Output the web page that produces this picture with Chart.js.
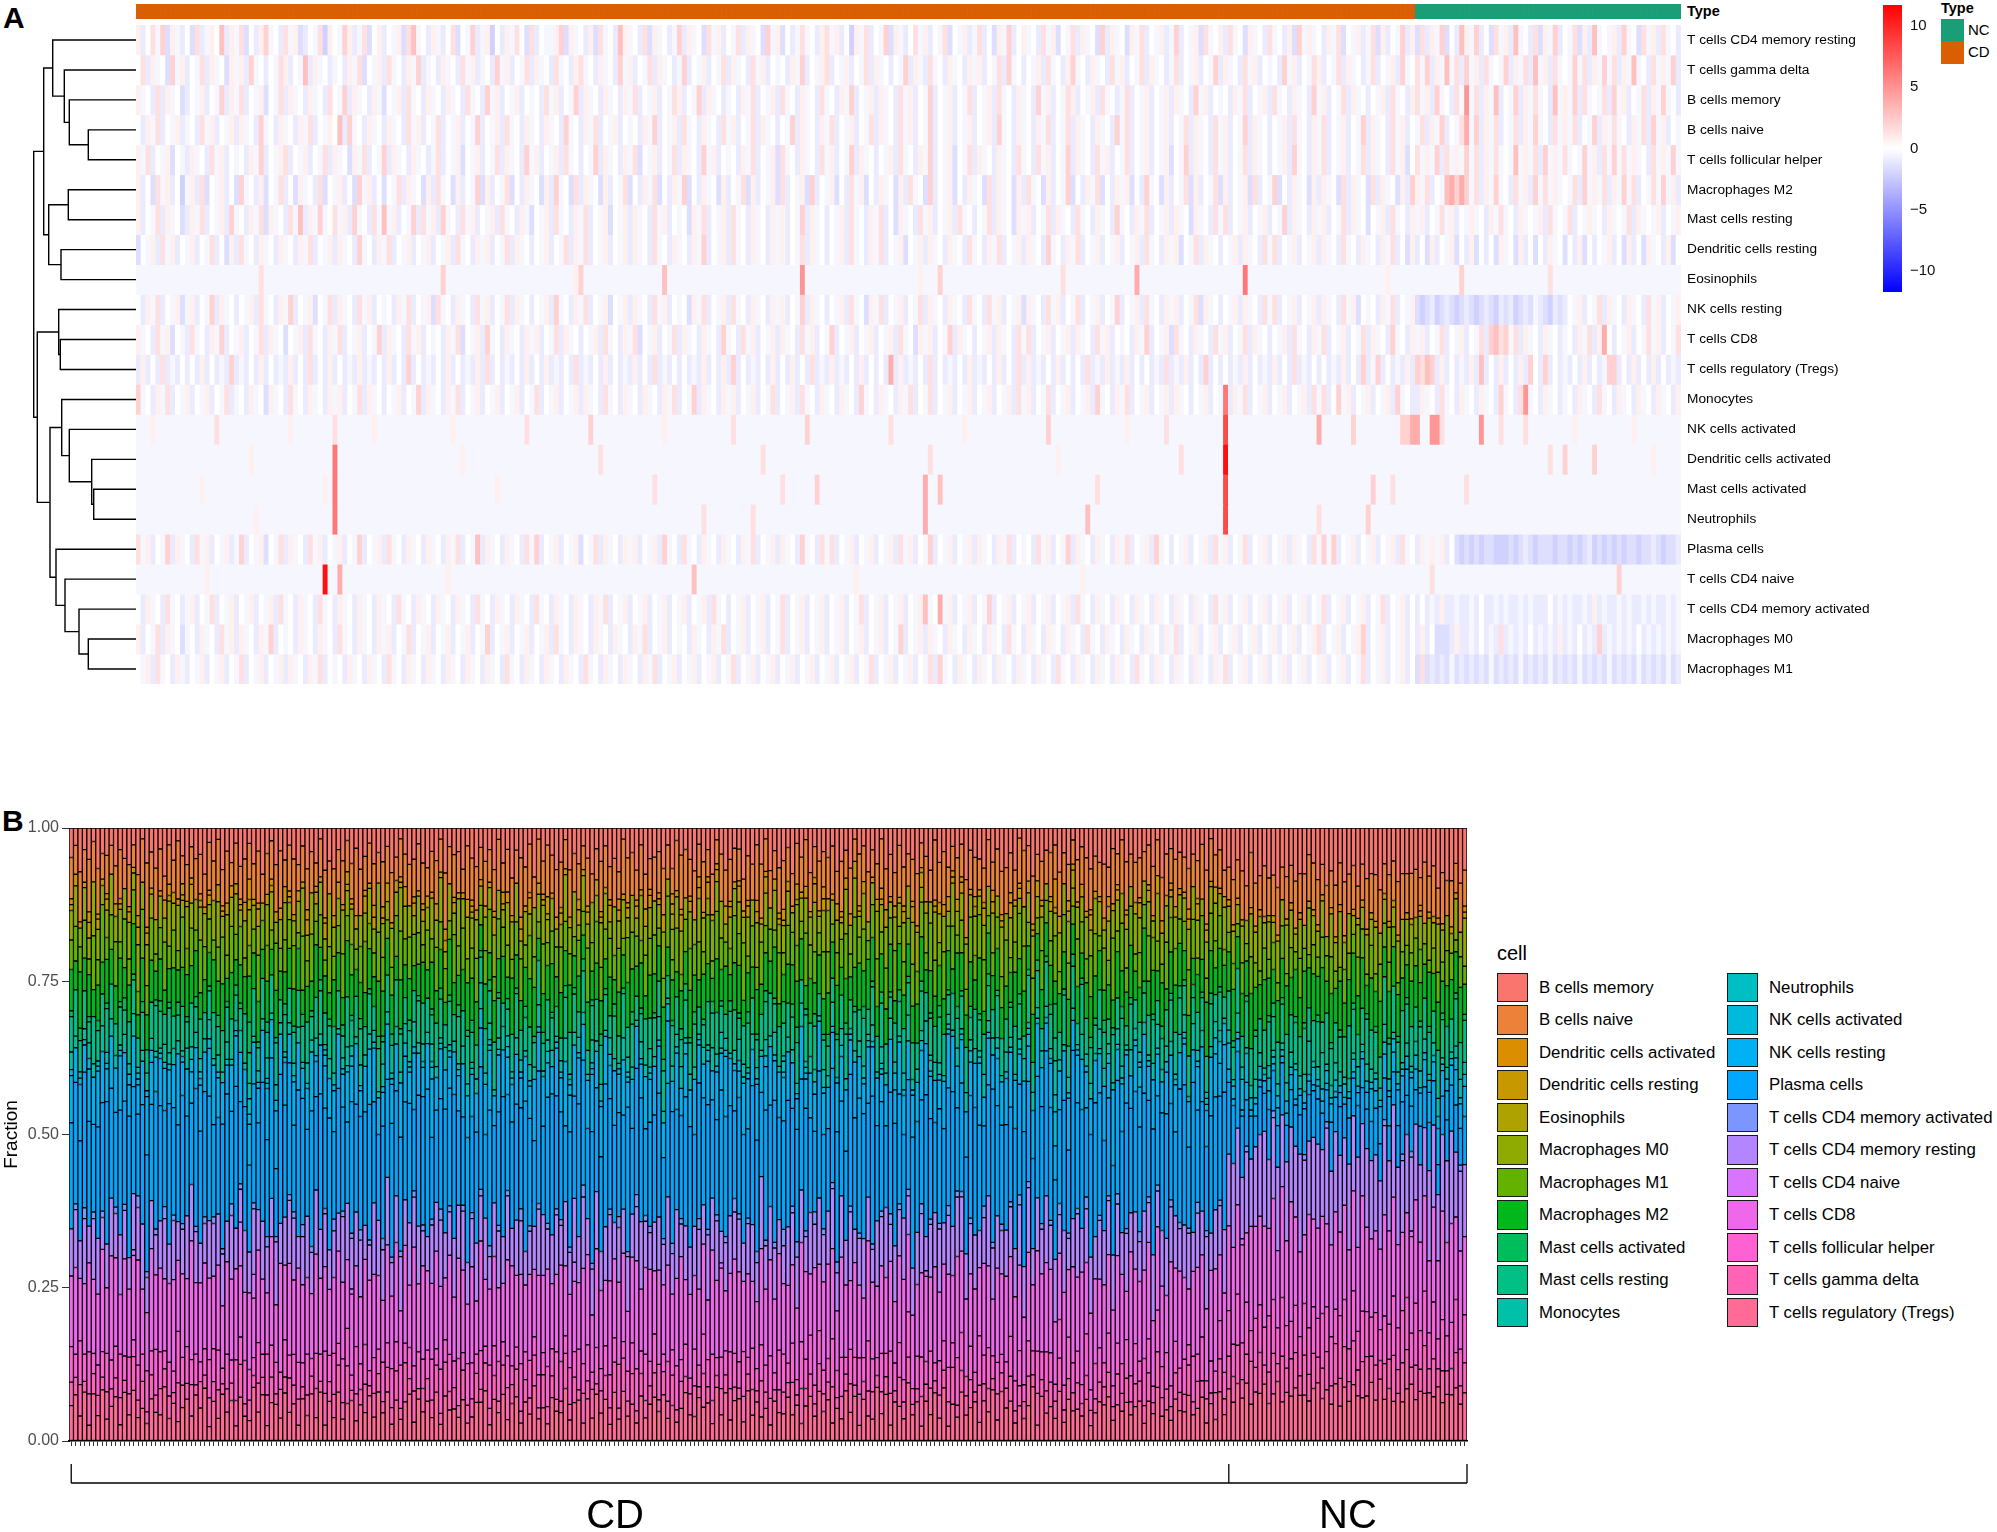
<!DOCTYPE html>
<html>
<head>
<meta charset="utf-8">
<script src="https://cdn.jsdelivr.net/npm/chart.js@4.4.1/dist/chart.umd.min.js"></script>
<style>
  body { margin: 0; background: #fff; width: 1997px; height: 1532px; position: relative; overflow: hidden;
         font-family: "Liberation Sans", Arial, sans-serif; color: #000; }
  canvas, .abs { position: absolute; }
  .panel { font-weight: bold; font-size: 30px; line-height: 30px; }
  .typeTxt { font-weight: bold; font-size: 14.5px; line-height: 17px; }
  .key { position: absolute; box-sizing: border-box; }
  .lg { position: absolute; font-size: 16.8px; line-height: 20px; white-space: nowrap; }
</style>
</head>
<body>
<div class="abs panel" style="left:3px;top:3px">A</div>
<div class="abs panel" style="left:2px;top:806px">B</div>
<div class="abs typeTxt" style="left:1687px;top:3px">Type</div>
<div class="abs typeTxt" style="left:1941px;top:0px">Type</div>
<div id="typeLegend"></div>
<div id="cellLegend"></div>

<canvas id="dendro" width="120" height="659" style="left:20px;top:25px"></canvas>
<canvas id="annot" width="1545" height="15" style="left:136px;top:4px"></canvas>
<canvas id="heat" width="1861" height="699" style="left:136px;top:5px"></canvas>
<canvas id="cbar" width="69" height="321" style="left:1883px;top:-12px"></canvas>
<canvas id="frac" width="1475" height="721" style="left:0px;top:810px"></canvas>

<script>
// ---- samples ----
const sampleGroups = ["CD", "NC"];
const groupSizes = [260, 54];
const groupColors = ["#D95F02", "#1B9E77"];

// ---- panel A: heatmap rows (dendrogram order) ----
const heatRows = [
  "T cells CD4 memory resting", "T cells gamma delta", "B cells memory", "B cells naive",
  "T cells follicular helper", "Macrophages M2", "Mast cells resting", "Dendritic cells resting",
  "Eosinophils", "NK cells resting", "T cells CD8", "T cells regulatory (Tregs)", "Monocytes",
  "NK cells activated", "Dendritic cells activated", "Mast cells activated", "Neutrophils",
  "Plasma cells", "T cells CD4 naive", "T cells CD4 memory activated", "Macrophages M0", "Macrophages M1"
];
// one character per sample (row z-score level), CD block | NC block
const zLevels = { f: -3.6, e: -2.8, d: -2.1, c: -1.5, b: -0.9, a: -0.4, "0": 0, "1": 0.7, "2": 1.4,
                  "3": 2.1, "4": 2.9, "5": 3.8, "6": 4.8, "7": 6.2, "8": 8.3, "9": 11 };
const zCodes = [
  "1b02a3c1ab 0c2ba104b1 a2c0b13a0b 2a1cb0a2d1 0a31ba2c01 b0a1c24a0b 1ab02c0a3b a1d0b1a20c 2b0aa13c1a 0b1c2a0b41 a0b2c1a0ba 3b1a0c2a1b 0a2b1a0c3a 1c0ba2a0b1 2a1b0d1a2b 0a3c1ab02a 1b0a2c0a1b a2b0c1a3b0 1a0b2a1c0a 2b1a0c3b1a 0c1a2b0a1b a3b0a1c2a0 1b2a0c1a0b 2a0b1c3a1a 0b1a2c0a1b a2c1b0a3b1 | c2b1a3c0b4 1a3b0c2a1b 4a0b2c1a3b 0a2c1b4a0a 1b3a0c2a1b 2a0b",
  "02b1a0c3a1 b0a2b1a0c1 a1b3a0b0a2 1b0a4b1a0b a0b1a2c0a1 b2a0b1a3ba 0b1a0b2a1b a0b3a1b0a2 b1a0b2a0b1 2a0b1a0b3a 1b0a2b1a0b a3b0a1b0a2 b1a0b2a1b0 a0b1a3b0a1 2b0a1b0a2b 1a0b0a3b1a b2a0b1a0b1 a1b0a2b3a0 b0a1b2a0b1 3a0b1a0b2a 1b0a2b1a0b a2b0a1b0a3 b1a0b2a1b0 a0b3a1b0a2 1b0a2b1a0b a2b0a1b3a0 | 2a3b1a4a2b 3a1b2a0a3b 1a2b4a1b2a 0a3a2b1a3a 2b1a4a0b2a 1a3b",
  "1a0b2b1a0c b0a1b0a3b1 a2b0a1c0a2 b1a0b1a0b2 0a3b1a0b1a c0a1b2a0b1 a0b1a0b2a0 b3a1b0a1b0 a0b2a1b0a3 b1a0b1a0b1 a2b0a1b0a2 1b0a3b1a0b a0b1a2b0a1 b2a0b1a0b2 a0b1a3b0a1 b1a0b2a1b0 a3b0a1b0a2 b0a1b2a0b1 a0b3a1b0a2 1b0a1b2a0b a2b0a1b0a1 b1a0b3a1b0 a0b1a2b0a1 b2a0b1a0b3 a1b0a2b1a0 b0a1b2a0b1 | 2a1b3a0b2a 6a2b1a4b0a 3b1a2a0b4a 1a3b2a0a2b 3a1b0a2b1a 3a0b",
  "0b1a2b0a1b a0b2a1b0a1 b1a0b3a0b1 a0b1a2b0a1 04b3a0b1a0 b1a0b2a1b0 a2b0a1b0a3 b0a1b2a0b1 a0b1a0b3a0 b1a2b0a1b0 a0b1a3b0a1 b2a0b1a0b2 a1b0a2b1a0 b0a3b1a0b1 a2b0a1b0a2 b1a0b2a1b0 a3b0a1b0a1 b0a1b3a0b1 a0b1a2b0a2 b1a0b1a0b3 a2b0a1b0a1 b0a2b1a0b2 a1b0a3b1a0 b0a1b2a0b1 a2b0a1b0a3 b1a0b2a1b0 | a2b1a3b0a2 5a3b1a2b0a 2b1a3a0b2a 1a2b0a3b1a 2a0b1a2b3a 1b0a",
  "1a2b0a1c0a b1a0b2a1b0 a0b1a3b0a1 2b0a1b0a2b 1a0c1a2b0a 3b1a0b1a0b a2b0a1c0a1 b0a2b1a0b3 a1b0a1b2a0 b0a3b1a0b1 a2c0a1b0a2 b1a0b3a1b0 a0b1a2b0a1 c2a0b1a0b2 a1b0a3b1a0 b0a1b2a0b1 a3b0a1c0a2 b1a0b1a0b2 a0b2a1b0a3 b1a0b2a1b0 a2b0a1b0a1 c0a3b1a0b2 a1b0a2b1a0 b0a1b3a0b1 a2b0a1b0a2 b1a0b2a1c0 | 2a1a3b2a1a 3a2b1a2a0a 4a1a2b3a1a 2a0a3a1b2a 3a2a1a0b2a 1a3a",
  "1b0c2a1b0d a1b2c0a1b0 c3a0b1c0a2 b0c1a0b2c0 a1b0c3a1b0 c0a2b1a0c1 b2a0c1b0a3 c1b0a2c0b1 a0c1b3a0c2 b1a0c1b0a2 c0b1a2c0b1 a3c0b1a0c1 b0a2c1b0a1 c2b0a1c3b0 a1c0b2a1c0 b1a0c1b2a0 c3b0a1c0b1 a0c2b1a0c1 b2a0c1b0a3 c0b1a2c0b1 a1c0b3a0c1 b0a2c1b0a2 c1b0a1c2b0 a3c0b1a0c1 b1a0c2b1a0 c2b1a0c1b3 | 1a2b0a4535 3a2b1a3a0b 2a1b3a2a1a 0a2b3a1a2b 1a3a2b0a2a 3a1b",
  "1b0a2b1a0c b1a2b0a1b3 a0b1a2c1a0 b2a4b1a3a0 2a1b3a0b2a 4a1b0a3b2a 1b3a0b2a1b 0a1b2a0b1a c0a1b2a0b1 a2b0a1c0a1 b1a0b2a1b0 a0c1a2b0a1 b2a0b1a0b1 a1b0a3b1a0 b0a1b2a0b1 a2b0c1a0b2 a1b0a1b2a0 b0a2b1a0c1 a1b0a2b1a0 b2a0b1a0b3 a0b1a2b0a1 b1a0c1a0b2 a2b0a1b0a1 b0a3b1a0b1 a1b0a2b1a0 c0a1b2a0b1 | a1b0a2a1b0 a1a0b1a2a0 b1a0a1b2a0 a2b0a1a0b1 a0a2b1a0a1 b0a1",
  "c0a1b2a1b0 a1b0a2b0c1 b2a0b1a0b1 a0b1a2b0a1 b1a0b3a0b1 a2b0a1b0a1 b0a1b2a0b1 a1b0a2b1a0 b0a1b0a2b1 a2b0a1b0a1 b1a0b2a0b1 a0b1a3b0a1 b2a0b1a0b1 a1b0a2b1a0 b0a1b2a0b1 a2b0a1c0a1 b1a0b1a0b2 a0b1a2b0a1 b1a0b3a0b1 a2b0a1b0a1 b0a1b2a0b1 a1c0a2b1a0 b0a1b1a0b2 a2b0a1b0a1 b1a0b2a0b1 a0b1a2b0c1 | b0c1b0a1c0 b1c0b0c1a0 c1b0c0b1a0 c0b1c0b0a1 b0c1b0c1a0 b1c0",
  "aaaaaaaaaa aaaaaaaaaa aaaaa2aaaa aaaaaaaaaa aaaaaaaaaa aaaaaaaaaa aa3aaaaaaa aaaaaaaaaa aaaaaaaaa1 3aaaaaaaaa aaaaaaa4aa aaaaaaaaaa aaaaaaaaaa aaaaa6aaaa aaaaaaaaaa aaaaaaaaa1 aaa3aaaaaa aaaaaaaaaa aaaaaaaa2a aaaaaaaaaa aaa5aaaaaa aaaaaaaaaa aaaaa7aaaa aaaaaaaaaa aaaaaaaaaa aaaa1aaaaa | aaaaaaaaa3 aaaaaaaaaa aaaaaaa2aa aaaaaaaaaa aaaaaaaaaa aaaa",
  "0b1a2b0a1c a1b0a3b1a0 b0a1b2a0b1 a3b0a1c0a2 b1a0b2a1b0 a0b1a2b0a1 c2a0b1a0b2 a1b0a2b1a0 b0a1b3a0b1 a2b0a1c0a1 b1a0b2a1b0 a0c1a2b0a1 b2a0b1a0b1 a1b0a3b1a0 b0a1b2a0c1 a2b0a1b0a2 b1a0b1a0b2 a0b2a1b0a1 c1a0b2a1b0 a2b0a1b0a3 b0a1b2a0b1 a1b0a2c1a0 b0a1b1a0b2 a2b0a1b0a1 b1a0b2a1c0 a0b1a2b0a1 | cdcbdcbcdc bcdcbcdbcb dcbcabcdbc b0a1b0a2b1 a0b1a0b2a1 b0a1",
  "1a0b2a1c0a b2a0b1a3b0 a1b0a2b1a0 c0a1b2a0b1 a2b0a1b0a3 b1a0b2a1b0 a0b1a2c0a1 b3a0b1a0b1 a1b0a2b1a0 b0a1b2a0b1 a2c0a1b0a2 b1a0b1a0b3 a0b2a1b0a1 b1a0b2a1b0 a3b0a1b0a1 b0a1b2a0c1 a1b0a3b1a0 b0a1b1a0b2 a2b0a1b0a1 b1a0b2a1b0 a0b1a3b0a1 c2a0b1a0b2 a1b0a2b1a0 b0a1b2a0b1 a2b0a1b0a2 b1a0b3a0b1 | a1b0a2b0a1 b0a2b3423a 2b1a0b1a0b a0b1a2b150 b0a1b0a2a1 b0a2",
  "b1b0b2bab0 b0b1b0bab3 bab0b1b0ba b1b0b2b0b1 b0bab1bab0 b1b0b3b0ba b0b1b0bab1 b2b0bab0b1 b0b1bab0b2 bab0b1b0ba b1b0b2bab0 b0bab1b0b1 b3b0bab0b1 b0b1b0b2ba b1bab0b1b0 b0b5b1bab0 b2b0bab0b1 bab0b1b0b2 b1bab0b1b0 b0b2bab1ba b1b0b0bab2 bab1b0b3b0 b0bab1b0ba b1b0b2bab0 b0bab1b0b3 ba3b0bab1b | 3243b1b0ba b1b4b0b1b0 b1b30b3b0b ab0b1b0ba3 3b0b1b0b1b 0bab",
  "3a0b1a2b0a 1b0a1b0a2b a0b1a0c1a0 b2a0b1a0b1 a1b0a2b1a0 b0a1b0a3b1 a0b1a2b0a1 b0a1b0a1b0 a2b0a1b0a1 b1a0b2a0b1 a0b1a0b1a2 b0a3b1a0b1 a1b0a1b0a2 b0a1b2a0b1 a0b1a0b3a0 b1a0b1a2b0 a2b0a1b0a1 b0a1b0a1b2 a1b0a2b0a1 b0a1b3a0b1 a2b0a1b0a1 b1a0b0a1b0 a7b1a2b0a1 b0a1b0a1b2 a2b03a1b0a 1b0a1b3a0b | b1a0b2a0b1 a0b1a0b3a0 b26a0b1a0b a0b1a0b2a0 b1a0b1a0b1 a0b1",
  "aaa1aaaaaa aaaaaa2aaa aaaaaaaaaa a1aaaaaaaa 2aaaaaaa1a aaaaaaaaaa aaaa1aaaaa aaaaaaaaa2 aaaaaaaaaa aa3aaaaaaa aaaaaaa1aa aaaaaaaaaa a2aaaaaaaa aaaaaa3aaa aaaaaaaaaa aaa2aaaaaa aaaaaaaa1a aaaaaaaaaa aaaaa3aaaa aaaaaaaaaa a1aaaaaaa2 aaaaaaaaaa a8aaaaaaaa aaaaaaaaaa 5aaaaaa3aa aaaaaaa335 | 5aa662aaaa aaa6aaa2aa aa2aaaaaaa aa1aaaaaaa aaaa1aaaaa aaaa",
  "aaaaaaaaaa aaaaaaaaaa aaa1aaaaaa aaaaaaaaaa 7aaaaaaaaa aaaaaaaaaa aaaaaa1aaa aaaaaaaaaa aaaaaaaaaa aaaa2aaaaa aaaaaaaaaa aaaaaaaaaa aaaaaaa2aa aaaaaaaaaa aaaaaaaaaa aaaaaaaaaa a2aaaaaaaa aaaaaaaaaa aaaaaaa1aa aaaaaaaaaa aaaaaaaaaa aa2aaaaaaa a9aaaaaaaa aaaaaaaaaa aaaaaaaaaa aaaaaaaaaa | aaaaaaaaaa aaaaaaaaaa aaaaaaa2aa 3aaaaa3aaa aaaaaaaa1a aaaa",
  "aaaaaaaaaa aaa1aaaaaa aaaaaaaaaa aaaaaaaa1a 7aaaaaaaaa aaaaaaaaaa aaaaaaaaaa aaa1aaaaaa aaaaaaaaaa aaaaaaaaaa aaaaa2aaaa aaaaaaaaaa aaaaaaaaaa a2aaaaaa3a aaaaaaaaaa aaaaaaaaaa 5aa4aaaaaa aaaaaaaaaa aaaaaaaaaa aaaaa2aaaa aaaaaaaaaa aaaaaaaaaa a8aaaaaaaa aaaaaaaaaa aaaaaaaaaa a3aaa2aaaa | aaaaaaaaaa 2aaaaaaaaa aaaaaaaaaa aaaaaaaaaa aaaaaaaaaa aaaa",
  "aaaaaaaaaa aaaaaaaaaa aaaa1aaaaa aaaaaaaaaa 7aaaaaaaaa aaaaaaaaaa aaaaaaaaaa aaaaaaaaaa aaaaaaaaaa aaaaaaaaaa aaaaaaaaaa aaaaa2aaaa aaaaa2aaaa aaaaaaaaaa aaaaaaaaaa aaaaaaaaaa 5aaaaaaaaa aaaaaaaaaa aaaaaaaaaa aaa4aaaaaa aaaaaaaaaa aaaaaaaaaa a8aaaaaaaa aaaaaaaaaa 2aaaaaaaaa 3aaaaaaaaa | aaaaaaaaaa aaaaaaaaaa aaaaaaaaaa aaaaaaaaaa aaaaaaaaaa aaaa",
  "2a1b0a3b1a 0b2a1b0a1b a3b0a1c0a2 b1a0b2a1b0 a1b0a3b0a1 b2a0b1a0b1 a0b1a2b0a4 b1a0b1a0b2 a3b0a1b0a1 c0a2b1a0b1 a1b0a1b3a0 b2a0b1a0b1 a0b1a2b0a1 b1a0b3a0b2 a2b0a1b0a1 b0a1b2a1b0 a3b0a1b0a1 b1a0b1a2b0 a0b2a1b0a3 b1a0b1a0b1 a2b0a1b3a0 b0a1b0a1b2 a1b0a2b0a1 b0a1b1a0b2 a3a3b0a1b0 a1b0a1b2a0 | b1a1a1b0cd cdcdccdddc dcbcdcccdc cdcdcbdcdc dcdccdccbc dccb",
  "aaaaaaaaaa aaaa1aaaaa aaaaaaaaaa aaaaaaaa9a a5aaaaaaaa aaaaaaaaaa aaa1aaaaaa aaaaaaaaaa aaaaaaaaaa aaaaaaaaaa aaaaaaaaaa aaa4aaaaaa aaaaaaaaaa aaaaaaaaaa aaaaaa1aaa aaaaaaaaaa aaaaaaaaaa aaaaaaaaaa aaaaaaaaaa aa1aaaaaaa aaaaaaaaaa aaaaaaaaaa aaaaaaaaaa aaaaaaaaaa aaaaaaaaaa aaaaaaaaaa | aaa2aaaaaa aaaaaaaaaa aaaaaaaaaa aaaaaaaaaa a3aaaaaaaa aaaa",
  "0b1a0b2a0b a1b0a2b0a1 b0a1b0a1b2 a0b1a0b2a0 b1a0b1a0b1 a0b2a0b1a0 b1a0b1a0b2 a0b1a0b1a0 b2a0b1a0b1 a0b1a2b0a1 b0a1b0a1b0 a1b0a1b2a0 b0a1b0a1b0 a2b0a1b0a1 b0a1b0a2b0 a1b0a1b0a1 4a05a1b0a1 b0a3b0a1b0 a1b0a1b0a1 b2a0b1a0b1 a0b1a0b1a0 b1a0b1a0b2 a1b0a1b0a1 b0a1b0a1b0 a2b0a1b0a1 b0a2b0a1b0 | b0bab1bbab bab0bbabab bababbb0ba babbab1bab bababbabab baba",
  "1b0a2b1a0c a0b1a0b2a1 b1a0b1a3b0 a0b1a0b1a0 b2a0b1a0b1 a1b0a2b0a1 b0a1b0a1b0 a3b0a1b0a1 b0a1b2a0b1 a0b1a0b1a0 b1a2b0a1b0 a0b1a0b1a2 b0a1b0a1b0 a2b0a1b0a1 b0a1b0a1b0 a1b0a3b0a1 b1a0b1a0b1 a0b1a0b2a0 b1a0b1a0b1 a0b2a0b1a0 b1a0b1a0b1 a2b0a1b0a1 b0a1b0a1b0 a1b0a1b0a1 2b0a1b0a13 b0a1b0a1b0 | b1b0cccb1b bab0bab2ba bab0babab1 bab0bab3ba babab0baba baba",
  "0a1b2a0b1a b0a1b0a1b0 a2b0a1b0a1 b1a0b1a2b0 a0b1a0b1a0 b2a0b1a0b1 a0b1a0b1a0 b1a0b2a0b1 a0b1a0b1a0 b2a0b1a0b1 a0b1a2b0a1 b0a1b0a1b0 a2b0a1b0a1 b0a1b0a1b0 a1b0a1b0a2 b0a1b0a1b0 a2b3a0b1a0 b1a0b1a0b1 a0b1a0b2a0 b1a0b1a0b1 a0b2a0b1a0 b1a0b1a0b1 a2b0a1b0a1 b0a1b0a1b0 a1b0a1b0a2 b0a1b0a1b0 | c2cbcbcacb cbcbcacbcb cacbcbcacb cbcacbcbca cbcbcacbcb cacb"
];
const zLimit = 11.7;
const colorTicks = [-10, -5, 0, 5, 10];

// hierarchical clustering of rows: [a, b, height]; negative = row (1-based), positive = earlier merge
const dendroMerges = [
  [-4, -5, 47.7], [-3, 1, 66.7], [-2, 2, 71.7], [-1, 3, 83.3],
  [-6, -7, 67.7], [-8, -9, 75.0], [5, 6, 87.3], [4, 7, 92.3],
  [-11, -12, 75.7], [-10, 9, 77.3],
  [-16, -17, 42.3], [-15, 11, 44.3], [-14, 12, 66.7], [-13, 13, 74.3],
  [-21, -22, 47.7], [-20, 15, 57.0], [-19, 16, 71.0], [-18, 17, 80.0],
  [14, 18, 86.0], [10, 19, 98.7], [8, 20, 102.3]
];

// ---- panel B: fractions, percent as base-36 digit per sample ----
const cellTypes = [
  "B cells memory", "B cells naive", "Dendritic cells activated", "Dendritic cells resting",
  "Eosinophils", "Macrophages M0", "Macrophages M1", "Macrophages M2", "Mast cells activated",
  "Mast cells resting", "Monocytes", "Neutrophils", "NK cells activated", "NK cells resting",
  "Plasma cells", "T cells CD4 memory activated", "T cells CD4 memory resting", "T cells CD4 naive",
  "T cells CD8", "T cells follicular helper", "T cells gamma delta", "T cells regulatory (Tregs)"
];
const fracCodes = [
  "5374628453 6457382647 4836257364 7352846375 3648527463 5738462857 4627385364 6385247536 7462835473 5836472648 4573826357 6284735846 3758264738 5647382546 7364825763 4857362847 6473528364 5386472537 4627583746 7358264835 3846572647 6572438564 5384726358 4768352746 6437285364 5846372548 | 6857a49768 7a68597846 8697a58769 5978a68597 7869586a79 8697",
  "7586a69475 6958478b69 8476957586 5a68794867 7695869a58 9568747958 6857a96875 8694758697 5786a68749 7958679586 6a79586978 8596748569 7685a97586 5978658a97 8695749685 6587a96758 9758687596 7869584a68 5697869758 8586a79647 6978568597 7859a68576 9685748698 5796869a57 8579678596 6857a98675 | 5768697586 6857586978 7586968675 5968758697 6875968586 7586",
  "1010201010 0101020100 1020100101 0100102010 4010010201 1002010100 0101001020 2010100101 0100201010 1010010201 0201001010 1000201001 0102010100 1010020101 0201010010 1010201001 2010100102 0101020100 1020100101 0100102010 1010010201 0201001010 1500201001 0102010100 1010020101 0201010010 | 1010010100 0100101001 1001010010 0101001010 1001010100 0101",
  "1201302120 2102130210 0312021301 1203120213 2130212031 0213021302 3021203120 1302130212 2031202103 1202130120 0213021302 2120312031 1302120213 2013021302 0213120321 3120213021 1203021312 2031203120 0213021203 1320120312 2102130201 0312021320 2130210213 1023120302 3021302120 1203021302 | 0101001010 1001010010 0100101001 1010010100 0101001010 1001",
  "0000000000 0000000000 0000010000 0000000000 0000000000 0000000000 0010000000 0000000000 0000000000 1000000000 0000000100 0000000000 0000000000 0000030000 0000000000 0000000000 0001000000 0000000000 0000000000 0000000000 0002000000 0000000000 0000030000 0000000000 0000000000 0000000000 | 0000000001 0000000000 0000000000 0000000000 0000000000 0000",
  "5736486357 4657385746 6485738465 5368475836 7453864573 4685736485 5847365748 6374856374 4758364857 5836475386 7364857463 4857364758 6385746385 5748365847 4863757364 6475836475 5738465837 7463857463 4857364758 6374856374 5748365748 4863757463 6475836475 5738465837 7463857364 4857365748 | 4536475846 3748536475 4637584635 3748546375 4536374856 3748",
  "5647385946 7385649573 6847395648 5736948573 6485739465 7395846374 5846379548 6357948563 7485639574 5936847563 6748539465 8563749586 5748396547 6835947368 5749386457 6938475639 4857396548 7365849573 6847593648 5739648573 6485793465 7359846374 5846739548 6375948563 7486539574 5963847563 | 3425364253 4352436425 3546325436 4253645324 3546324536 4253",
  "7596847586 6857948675 8469578694 5786948576 9675849567 6847596748 7598476859 8674958467 5867496578 7948576849 6579847695 8695748576 5748697584 7869584769 6587496857 9476857694 5869748576 7695847968 8576948657 6948576849 7586947685 5697848576 8476957468 6857496785 7968574697 5847698576 | 6857697586 5768586968 6958675786 7586958675 5867596857 6795",
  "1020102010 0120102001 2010201020 0102010210 6010201020 1020102010 0201020102 1020102010 0102010201 2010201020 1020102010 0201020102 1020102010 0102010231 2010201020 1020102010 4023010201 2010201020 1020102010 0201020102 1020102010 0102010201 2601020102 1020102010 0201020102 1020102010 | 0100101001 2010010100 1001010010 0101001010 1001010010 0101",
  "6857476586 5748657468 7586485756 4675867548 6847568476 5768478658 7485675847 4658746587 6587475868 5748687456 8567485765 4786574687 6475867458 5867486576 7548675486 4687567857 6758486745 5476857684 7685476857 4857687465 6748576586 5687485748 7458674867 4865768475 6578457686 5847668574 | 6575867567 5768576857 7586756875 5867586758 6758675867 5867",
  "3212321423 2132412321 1323214232 2413231241 3122413212 2314232132 1232142321 4213231423 2321412132 1342312421 3213241231 2412321423 1321432132 3242132413 2131423212 4213213241 1322413213 2413212321 3132421342 2241321213 1323142321 3212413232 2621321423 1432132142 2213423213 3142312321 | 2132123212 1213212351 2612321213 1321232121 2123212312 1232",
  "0001000000 0000010000 0100000001 0000000000 3000100000 0000000100 0010000000 0000001000 0100000000 0000100001 0000000000 0010000100 0000010000 1000000000 0000001000 0100000000 2000010000 0000000001 0010000000 0002000100 0000000000 1000010000 0300000000 0000001000 1000000000 1000010000 | 0000000000 0000000000 0000000000 0000000000 0000000000 0000",
  "1010201010 0102010120 1010010201 0201010100 2010102010 1001010201 0102010010 1010020101 0201010100 1030101020 0101010201 1020100101 0201010010 1010301020 0102010101 2010102010 1001010201 0102010010 1010030101 0201010100 1020101020 0101020101 1600101010 0102010101 4010102010 1001010344 | 4215521212 1212151213 1221212121 1212121211 2121121212 1212",
  "8695a7b869 7a86958a76 9768b69587 6a97858a96 8769a6b785 7958a69867 a687958b96 6978a76985 8a69758697 7869b5a876 9586a79658 6b78968a79 8697a58769 7a86b69587 9768587a96 5897a68b78 8a76958697 7698b6a859 9857a69768 6a98758b97 8769a58697 7b86968a75 9678a59867 6897b68a58 8a69758796 7958a6b869 | 2121312123 1312213121 2213121312 4353645364 4536453645 3645",
  "ilgpkdmhqj fnhrjemkgo mgpkfnjdrh jqehomgsfk hkfojmdqln eslhngpjkf njdqgmkrhe kgoilfndpm qehkmjrgfl gnjfpdkoih lhrkeogmqj jdmgqlfnkh okgjhtelmf hmlekqgjon fpjnhgrkld mhgrkeojpi kqfmjlhdng ejohgnkqlf rgkenmjfhp hlpjfkgome kfmqhejrlg gjkmohfnlq nehlgskjfo jpfkdmhqgl lkhnfjoegm ognhkemljq | b9ca875768 6786576878 7658675768 5768676578 6857687567 7868",
  "0102010100 1010020101 0201010010 1010102010 0100201001 1020100102 0101020100 2010100101 0102010010 1010201010 0201010101 1010020100 0102010201 1001020100 0201010102 1010201010 3013010201 0120010100 1010201010 0201010201 1010020101 0102010010 1020101020 0101020100 2010100101 0102010010 | 0000100000 1000000100 0010000000 0000010001 0100000000 0010",
  "8a6c79b58a 7b86a9c687 9a7b68c9a6 6c89a7b86a 8b7a96c79b a68c7b9a68 7c9a8b67c9 9b68a7c8b6 6a9c87b9a7 8c7b69a8c6 a9687cb79a 7b8a9c68b7 9c6a8b79c8 6a97c8b6a9 8b7c9a68b7 a69b7c8a96 7c8a96b7c8 9a7b8c69a7 6b9c7a8b69 8c6a9b7c8a a79b68c9a7 7a8c9b6a8c 9b7a68c79b 6c9b8a7c6a 8a7c69b8a7 9b6a8c7b9c | bdcaebdcfb cebdacfdbe dbfcebadce aecdbfcedb cdbeafdbce ebdc",
  "0000000000 0000100000 0000000000 0000000080 0400000000 0000000000 0001000000 0000000000 0000000000 0000000000 0000000000 0003000000 0000000000 0000000000 0000001000 0000000000 0000000000 0000000000 0000000000 0010000000 0000000000 0000000000 0000000000 0000000000 0000000000 0000000000 | 0001000000 0000000000 0000000000 0000000000 0100000000 0000",
  "cfadhbegci ebgdficahd gcehbfdjec dhbfcgeidb fagdchbjeg cidfbhegad hebgcdfiec bgdhafcjdg edifbgchea gbhcefdaig dfcgbiehcd hcebdgfaje bhdfgceibf fdgchbejcg cegbidhafe hbfdcgeidh dgcehfbjcf gfbidcheag ecgdhbfice bhfegcdjbh fcdhbgeaid dgehcfbjeg hbcfdgeicf cedgbhfajd gfhcedbieg ebdgfchjcf | dfegchfdge fdhegfdchf egdfhcefgd gfcedhgfec dhfgecfdhg fegd",
  "6475836475 5847365748 7364857463 4857364857 6374856374 5748365847 4863757364 7475836475 5738465837 6463857463 4857364758 7374856374 5648365748 4863757463 6475836475 5738465837 7463857364 4857365748 6374856473 5847365748 7364857463 4857364857 6374856374 5748365847 4863757364 6475836475 | 7586958769 8697586978 6978697586 7869586978 8697869586 7968",
  "4352634253 3524635243 5342643524 2635243562 4253642536 3524352634 5362435243 2435263524 4352634253 3625342563 5243526342 2634253524 4352635243 3524362534 5263425362 2435263524 4352634253 3624352634 5243625342 2635243562 4352634253 3524352634 5362435243 2435263524 4352634253 3625342563 | 5463574635 6374563746 4563746374 5746365746 6354746354 4635",
  "6849375846 7385946375 5947368495 8364957384 4958367495 6375849364 9468375948 5837469385 7493856473 4869375846 8375946385 5946837495 7384956384 6958473695 4867395846 8395746375 5947368495 7364958374 4958376495 6375849364 9468375948 5837469385 7493856473 4869375846 8375946385 5946837495 | 8697a68796 7a68697869 9786a58697 6897a79686 8a69787968 7968"
];
const fracTicks = [0, 0.25, 0.5, 0.75, 1];

// ---- build tables ----
const N = groupSizes.reduce((a, b) => a + b, 0);
const sampleType = [];
const sampleIds = [];
groupSizes.forEach((n, g) => { for (let i = 0; i < n; i++) { sampleType.push(g); sampleIds.push(sampleGroups[g] + (i + 1)); } });

function decode(str) { return str.replace(/[\s|]/g, "").split(""); }
const zMatrix = zCodes.map(s => decode(s).map(c => zLevels[c]));
const fracRaw = fracCodes.map(s => decode(s).map(c => parseInt(c, 36)));
const totals = sampleIds.map((_, j) => fracRaw.reduce((a, r) => a + (r[j] || 0), 0));
const frac = fracRaw.map(r => sampleIds.map((_, j) => (r[j] || 0) / totals[j]));
zMatrix.forEach((r, i) => { if (r.length !== N) console.warn("row", i, r.length); });
fracRaw.forEach((r, i) => { if (r.length !== N) console.warn("cell", i, r.length); });

function zColor(z) {
  if (z === undefined) z = 0;
  const t = Math.min(Math.abs(z) / zLimit, 1);
  const v = Math.round(255 * (1 - t));
  return z >= 0 ? `rgb(255,${v},${v})` : `rgb(${v},${v},255)`;
}

// ggplot2 default hue palette
function hcl(h, c, l) {
  const hr = h * Math.PI / 180, U = c * Math.cos(hr), V = c * Math.sin(hr);
  const Y = l > 8 ? Math.pow((l + 16) / 116, 3) : l / 903.3;
  const un = 0.19784, vn = 0.46834;
  const u = U / (13 * l) + un, v = V / (13 * l) + vn;
  const X = 9 * Y * u / (4 * v), Z = Y * (12 - 3 * u - 20 * v) / (4 * v);
  const lin = [3.2406 * X - 1.5372 * Y - 0.4986 * Z, -0.9689 * X + 1.8758 * Y + 0.0415 * Z, 0.0557 * X - 0.2040 * Y + 1.0570 * Z];
  const rgb = lin.map(q => {
    const g = q <= 0.0031308 ? 12.92 * q : 1.055 * Math.pow(q, 1 / 2.4) - 0.055;
    return Math.round(Math.max(0, Math.min(1, g)) * 255);
  });
  return `rgb(${rgb.join(",")})`;
}
const hueColors = cellTypes.map((_, i) => hcl(15 + i * 360 / cellTypes.length, 100, 65));

Chart.defaults.font.family = '"Liberation Sans", Arial, sans-serif';
const base = { responsive: false, animation: false, events: [], plugins: { legend: { display: false }, tooltip: { enabled: false } } };

// ---- dendrogram ----
const nodePos = [];
function pos(id) { return id < 0 ? { h: 0, y: -id - 1 } : nodePos[id - 1]; }
const dendroSets = dendroMerges.map(([a, b, h]) => {
  const pa = pos(a), pb = pos(b);
  nodePos.push({ h: h, y: (pa.y + pb.y) / 2 });
  return {
    data: [{ x: pa.h, y: pa.y }, { x: h, y: pa.y }, { x: h, y: pb.y }, { x: pb.h, y: pb.y }],
    showLine: true, pointRadius: 0, borderColor: "#000", borderWidth: 1.4, clip: false, tension: 0
  };
});
new Chart(document.getElementById("dendro"), {
  type: "scatter",
  data: { datasets: dendroSets },
  options: Object.assign({}, base, {
    layout: { padding: { left: 13.7, right: 4, top: 0, bottom: 0 } },
    scales: {
      x: { type: "linear", display: false, reverse: true, min: 0, max: Math.max(...dendroMerges.map(m => m[2])) },
      y: { type: "linear", display: false, reverse: true, min: -0.5, max: heatRows.length - 0.5 }
    }
  })
});

// ---- annotation bar ----
new Chart(document.getElementById("annot"), {
  type: "bar",
  data: { labels: sampleIds, datasets: [{ data: sampleIds.map(() => 1), backgroundColor: sampleType.map(g => groupColors[g]),
          borderWidth: 0, barPercentage: 1, categoryPercentage: 1 }] },
  options: Object.assign({}, base, { layout: { padding: 0 }, scales: { x: { display: false }, y: { display: false, min: 0, max: 1 } } })
});

// ---- heatmap ----
new Chart(document.getElementById("heat"), {
  type: "bar",
  data: {
    labels: sampleIds,
    datasets: heatRows.map((name, r) => ({
      label: name, data: sampleIds.map(() => 1), backgroundColor: sampleIds.map((_, j) => zColor(zMatrix[r][j])),
      borderWidth: 0, barPercentage: 1, categoryPercentage: 1, yAxisID: "y"
    }))
  },
  options: Object.assign({}, base, {
    layout: { padding: { top: 20, bottom: 20, left: 0, right: 0 } },
    scales: {
      x: { display: false, stacked: true },
      y: { display: false, stacked: true, min: 0, max: heatRows.length, reverse: true },
      rows: { type: "category", axis: "y", labels: heatRows, position: "right", offset: true,
              grid: { display: false, drawTicks: false, tickLength: 0 }, border: { display: false },
              ticks: { autoSkip: false, padding: 6, color: "#000", font: { size: 13.7 } },
              afterFit(s) { s.width = 316; } }
    }
  })
});

// ---- colour key ----
new Chart(document.getElementById("cbar"), {
  type: "bar",
  data: { labels: [""], datasets: [{ data: [[-zLimit, zLimit]], borderWidth: 0, barPercentage: 1, categoryPercentage: 1,
    backgroundColor(ctx) {
      const a = ctx.chart.chartArea;
      if (!a) return "#fff";
      const g = ctx.chart.ctx.createLinearGradient(0, a.bottom, 0, a.top);
      g.addColorStop(0, "#0000FF"); g.addColorStop(0.5, "#FFFFFF"); g.addColorStop(1, "#FF0000");
      return g;
    } }] },
  options: Object.assign({}, base, {
    layout: { padding: { top: 14, bottom: 14, left: 0, right: 0 } },
    scales: {
      x: { display: false },
      y: { position: "right", min: -zLimit, max: zLimit, grid: { display: false, drawTicks: false }, border: { display: false },
           afterBuildTicks(s) { s.ticks = colorTicks.map(v => ({ value: v })); },
           ticks: { padding: 8, color: "#111", font: { size: 15 }, callback: v => v < 0 ? "\u2212" + (-v) : String(v) },
           afterFit(s) { s.width = 50; } }
    }
  })
});

// ---- type legend ----
const typeLegend = document.getElementById("typeLegend");
[1, 0].forEach((g, k) => {
  const top = 19 + k * 22.3;
  typeLegend.insertAdjacentHTML("beforeend",
    `<div class="key" style="left:1941px;top:${top}px;width:22.5px;height:22.3px;background:${groupColors[g]}"></div>` +
    `<div class="lg" style="left:1968px;top:${top + 1}px;font-size:15px">${sampleGroups[g]}</div>`);
});

// ---- panel B ----
const groupBracket = {
  id: "groupBracket",
  afterDraw(chart, args, opts) {
    const { ctx, chartArea } = chart, x = chart.scales.x;
    const edges = [];
    let start = 0;
    groupSizes.forEach(n => { edges.push(x.getPixelForValue(start)); start += n; });
    edges.push(chartArea.right);
    const yTop = chartArea.bottom + 23, yLine = chartArea.bottom + 42;
    ctx.save();
    ctx.strokeStyle = "#000"; ctx.lineWidth = 1.3;
    ctx.beginPath();
    ctx.moveTo(edges[0], yLine); ctx.lineTo(edges[edges.length - 1], yLine);
    edges.forEach(px => { ctx.moveTo(px, yTop); ctx.lineTo(px, yLine); });
    ctx.stroke();
    ctx.fillStyle = "#000"; ctx.textAlign = "center"; ctx.textBaseline = "alphabetic";
    ctx.font = '40px "Liberation Sans Narrow", "Liberation Sans", Arial';
    sampleGroups.forEach((g, i) => ctx.fillText(g, (edges[i] + edges[i + 1]) / 2 + opts.shift[i], chartArea.bottom + 87));
    ctx.restore();
  }
};

new Chart(document.getElementById("frac"), {
  type: "bar",
  data: {
    labels: sampleIds,
    datasets: cellTypes.map((name, k) => ({
      label: name, data: frac[k], backgroundColor: hueColors[k], borderColor: "#000", borderWidth: 1,
      borderSkipped: false, barPercentage: 1, categoryPercentage: 1
    })).reverse()
  },
  plugins: [groupBracket],
  options: Object.assign({}, base, {
    plugins: { legend: { display: false }, tooltip: { enabled: false }, groupBracket: { shift: [-35, 0] } },
    layout: { padding: { top: 18, right: 8, left: 0, bottom: 0 } },
    scales: {
      x: { stacked: true, ticks: { display: false },
           grid: { display: true, drawOnChartArea: false, offset: false, tickLength: 5, color: "#333" },
           border: { display: true, color: "#000", width: 1.5 },
           afterFit(s) { s.height = 90; } },
      y: { stacked: true, min: 0, max: 1,
           afterBuildTicks(s) { s.ticks = fracTicks.map(v => ({ value: v })); },
           ticks: { callback: v => Number(v).toFixed(2), color: "#4D4D4D", font: { size: 16 }, padding: 3 },
           grid: { display: true, drawOnChartArea: false, tickLength: 7, color: "#333" },
           border: { display: true, color: "#000", width: 1 },
           title: { display: true, text: "Fraction", color: "#000", font: { size: 19 }, padding: { top: 0, bottom: 0 } },
           afterFit(s) { s.width = 69; } }
    }
  })
});

// ---- cell legend ----
const cellLegend = document.getElementById("cellLegend");
cellLegend.insertAdjacentHTML("beforeend", '<div class="lg" style="left:1497px;top:943px;font-size:20px">cell</div>');
cellTypes.forEach((name, k) => {
  const col = Math.floor(k / 11), row = k % 11;
  const bx = col ? 1727 : 1497, tx = col ? 1769 : 1539, top = 972.7 + row * 32.5;
  cellLegend.insertAdjacentHTML("beforeend",
    `<div class="key" style="left:${bx}px;top:${top}px;width:31px;height:29.5px;background:${hueColors[k]};border:1.6px solid #1a1a1a"></div>` +
    `<div class="lg" style="left:${tx}px;top:${top + 4.8}px">${name}</div>`);
});
</script>
</body>
</html>
